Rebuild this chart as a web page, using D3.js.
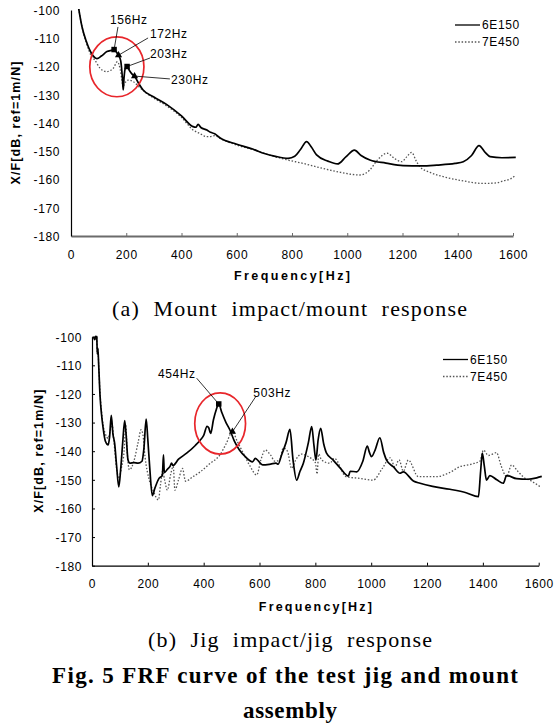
<!DOCTYPE html>
<html>
<head>
<meta charset="utf-8">
<script src="https://d3js.org/d3.v7.min.js"></script>
<style>
  body { margin: 0; background: #fff; }
  svg text { font-family: "Liberation Sans", Arial, sans-serif; fill: #000; }
  .tick text { font-size: 12px; letter-spacing: 0.6px; }
  .lab { font-size: 12px; letter-spacing: 0.6px; }
  .ttl { font-size: 12.5px; font-weight: bold; }
  svg text.cap { font-family: "Liberation Serif", "Times New Roman", serif; }
  .solid { fill: none; stroke: #000; stroke-width: 1.7px; stroke-linejoin: round; }
  .dot { fill: none; stroke: #555; stroke-width: 1.3px; stroke-dasharray: 1.5, 1.8; }
</style>
</head>
<body>
<script>
// shared axis ticks
var xTicks = [0, 200, 400, 600, 800, 1000, 1200, 1400, 1600];
var yTicks = [-180, -170, -160, -150, -140, -130, -120, -110, -100];

// (a) mount impact / mount response - 6E150
var aFreq6 = [22, 40, 55, 75, 94, 110, 130, 150, 156, 165, 172, 180, 186, 189, 192, 197, 203, 212, 222, 230, 245, 261, 300, 347, 400, 442, 452, 460, 470, 492, 505, 520, 540, 600, 660, 700, 740, 786, 810, 830, 853, 870, 889, 930, 965, 995, 1026, 1050, 1082, 1140, 1202, 1270, 1324, 1390, 1420, 1450, 1477, 1500, 1517, 1560, 1610];
var aDb6 = [-96, -106, -111, -115.5, -117.2, -116.3, -114.7, -114.2, -114, -115, -116, -118, -124, -128.3, -124, -120.5, -120, -121.5, -122.8, -123.4, -126, -128.3, -130.8, -133.5, -137.5, -141.3, -141.5, -140.5, -141.6, -142.5, -143.3, -143.8, -145.3, -147.5, -149.3, -150.8, -151.8, -152.5, -151.8, -149.5, -146.6, -148.5, -151.3, -153.5, -154.5, -152, -149.6, -151.5, -153.1, -154.2, -155.1, -155.2, -154.9, -154.3, -153.7, -151.5, -148, -150.5, -151.9, -152.3, -152.2];
// (a) 7E450
var aFreq7 = [22, 40, 55, 75, 86, 105, 129, 153, 168, 178, 186, 189, 192, 208, 226, 244, 274, 300, 347, 400, 442, 466, 490, 503, 520, 540, 600, 660, 720, 780, 840, 900, 962, 1046, 1082, 1110, 1145, 1170, 1197, 1215, 1233, 1250, 1263, 1300, 1348, 1420, 1493, 1540, 1565, 1590, 1607];
var aDb7 = [-96, -106, -111.5, -116.5, -117.7, -120.6, -121.8, -120.6, -118.3, -121, -126, -128, -126.5, -124.8, -125.4, -127, -129.5, -131.2, -134, -138, -142.5, -143.7, -144.8, -144.8, -144.5, -145.5, -147.8, -149.5, -151.4, -153, -154.3, -155.8, -157.2, -158.4, -156.6, -153, -150.7, -152.5, -153.7, -152, -150.4, -153.5, -155.5, -157.5, -159, -160.5, -161.4, -161.2, -160.5, -159.8, -158.7];

// (b) jig impact / jig response - 6E150
var bFreq6 = [5, 10, 14, 17, 19, 21, 24, 29, 34, 40, 48, 58, 63, 69, 75, 81, 88, 96, 103, 110, 117, 122, 129, 136, 150, 165, 179, 186, 194, 200, 207, 216, 225, 240, 252, 256, 259, 270, 280, 285, 290, 310, 339, 370, 388, 400, 412, 418, 425, 435, 445, 454, 465, 480, 494, 510, 528, 550, 575, 585, 595, 611, 640, 659, 667, 679, 695, 709, 720, 733, 745, 757, 775, 787, 795, 802, 810, 819, 830, 840, 864, 890, 918, 925, 948, 970, 986, 994, 1001, 1014, 1031, 1045, 1055, 1080, 1103, 1115, 1151, 1175, 1220, 1282, 1340, 1384, 1392, 1398, 1405, 1413, 1425, 1450, 1473, 1485, 1521, 1560, 1593, 1611];
var bDb6 = [-100, -101, -99.5, -100, -106, -104, -110, -121, -127, -132, -136.5, -137.8, -135, -127.5, -134, -137.2, -145, -152.5, -146, -137, -129.3, -134, -143.1, -144.2, -144, -144.2, -143.5, -139, -128.8, -136, -146, -155.5, -153, -149.5, -148.5, -141.3, -147.5, -146.3, -145.2, -144.2, -145, -142.8, -140.7, -138, -136.1, -134.5, -131.3, -131.8, -133.8, -129, -125.5, -123.5, -126.5, -130, -132.6, -136.5, -139.6, -142, -143.7, -142.5, -143.3, -144.8, -144.5, -144.2, -144.5, -141.3, -137, -132.4, -143, -150.1, -147, -144.2, -137, -131.4, -138, -143.1, -136, -132, -137.5, -140.7, -143.1, -146, -148.7, -147, -147.2, -143.5, -138.2, -140.5, -141.9, -139.6, -135.3, -140.5, -143.1, -145.5, -147.7, -147.2, -150.4, -151.2, -152.3, -153.3, -154.5, -155.9, -147, -140.7, -145, -150.1, -148.5, -150, -151.2, -148.5, -149.6, -149.8, -149.3, -148.8];
// (b) 7E450
var bFreq7 = [5, 10, 14, 17, 19, 21, 24, 29, 34, 40, 48, 58, 65, 72, 78, 88, 96, 105, 115, 121, 126, 134, 150, 165, 176, 182, 190, 205, 220, 238, 245, 253, 260, 270, 282, 291, 297, 310, 324, 335, 360, 388, 420, 458, 480, 503, 520, 542, 565, 590, 605, 620, 640, 655, 672, 685, 700, 715, 730, 750, 775, 800, 806, 812, 822, 852, 868, 910, 960, 1007, 1040, 1068, 1085, 1100, 1115, 1133, 1169, 1234, 1280, 1318, 1360, 1390, 1402, 1420, 1449, 1465, 1485, 1503, 1525, 1545, 1575, 1605];
var bDb7 = [-100, -101, -99.5, -100, -106, -104, -110, -120, -126, -131, -134, -135.5, -133, -130.5, -136, -146, -149.5, -146, -140, -131, -140, -146.5, -143.5, -137, -132.5, -134, -142, -150, -154, -157, -152, -146.9, -150, -153.6, -148, -145.3, -153.6, -150, -146, -150.5, -149, -147.2, -144.5, -141.3, -137.5, -133.2, -136.5, -140.7, -145, -148.3, -143, -139.6, -141.4, -143.5, -143.1, -138.9, -140, -146, -143, -141, -141.9, -144, -148, -141, -143, -144.2, -142.5, -148.9, -149.5, -150.1, -146, -142.3, -145.5, -143, -147, -143.1, -148.9, -148.9, -147.5, -145.4, -144.5, -143.4, -139.6, -141.5, -140.5, -145, -148.9, -144.8, -147, -149, -150.5, -152.4];

// peak annotations: [freq, dB, label, marker]
var aMarks = [[156, -114, "156Hz", "square"], [172, -116, "172Hz", "triangle"], [203, -120, "203Hz", "square"], [230, -123.4, "230Hz", "triangle"]];
var aLabels = [[141, -103.5, 170, -106], [286, -108.5, 279, -109.9], [286, -115.6, 286, -117], [362, -124.8, 358, -124.4]];
var bMarks = [[454, -123.5, "454Hz", "square"], [503, -133.2, "503Hz", "triangle"]];
var bLabels = [[236, -112.8, 375, -114.5], [578, -119.4, 586, -121]];
// highlight circles: [centre freq, centre dB, radius Hz, radius dB]
var aCircle = [166, -120.1, 98, 10.6];
var bCircle = [459, -130.3, 91, 10.7];

var svg = d3.select("body").append("svg")
  .attr("width", 554)
  .attr("height", 725);

function panel(o) {
  var x = d3.scaleLinear().domain([0, 1600]).range([o.left, o.right]);
  var y = d3.scaleLinear().domain([-180, -100]).range([o.bottom, o.top]);

  svg.append("clipPath").attr("id", o.id)
    .append("rect").attr("x", o.left).attr("y", o.top - 1)
    .attr("width", o.right - o.left + 6).attr("height", o.bottom - o.top + 1);

  // axes
  var gx = svg.append("g")
    .attr("transform", "translate(0," + o.bottom + ")")
    .call(d3.axisBottom(x).tickValues(xTicks).tickFormat(d3.format("d"))
      .tickSize(-3).tickSizeOuter(0).tickPadding(o.xPad));
  gx.select(".domain").attr("stroke", o.xAxisColor).attr("stroke-width", o.xAxisWidth);
  gx.selectAll(".tick line").attr("stroke", o.xAxisColor);

  var gy = svg.append("g")
    .attr("transform", "translate(" + o.left + ",0)")
    .call(d3.axisLeft(y).tickValues(yTicks).tickFormat(function (d) { return String(d); })
      .tickSize(o.yTick).tickSizeOuter(0).tickPadding(o.yPad));
  gy.select(".domain").attr("stroke", "#000").attr("stroke-width", 1.2);
  gy.selectAll(".tick text").attr("dy", "0.36em");
  svg.selectAll(".tick text").attr("font-family", null).attr("font-size", null);

  var line = d3.line().curve(d3.curveMonotoneX)
    .x(function (d) { return x(d[0]); }).y(function (d) { return y(d[1]); });
  var plot = svg.append("g").attr("clip-path", "url(#" + o.id + ")");
  plot.append("path").datum(d3.zip(o.f7, o.d7)).attr("class", "dot").attr("d", line);
  plot.append("path").datum(d3.zip(o.f6, o.d6)).attr("class", "solid").attr("d", line);

  // circle highlight
  svg.append("ellipse")
    .attr("cx", x(o.circle[0])).attr("cy", y(o.circle[1]))
    .attr("rx", x(o.circle[2]) - x(0)).attr("ry", y(-180) - y(-180 + o.circle[3]))
    .attr("fill", "none").attr("stroke", "#e8262b").attr("stroke-width", 1.7);

  // peak markers and leaders
  o.marks.forEach(function (m, i) {
    var l = o.labels[i];
    svg.append("line")
      .attr("x1", x(l[2])).attr("y1", y(l[3]))
      .attr("x2", x(m[0])).attr("y2", y(m[1]))
      .attr("stroke", "#000").attr("stroke-width", 0.8);
    svg.append("path")
      .attr("transform", "translate(" + x(m[0]) + "," + y(m[1]) + ")")
      .attr("d", d3.symbol(m[3] == "square" ? d3.symbolSquare : d3.symbolTriangle, m[3] == "square" ? 30 : 22)());
    svg.append("text").attr("class", "lab")
      .attr("x", x(l[0])).attr("y", y(l[1])).attr("dy", "0.36em")
      .text(m[2]);
  });

  // legend
  ["6E150", "7E450"].forEach(function (name, i) {
    var ly = o.legY + i * o.legGap;
    svg.append("line").attr("class", i ? "dot" : "solid")
      .attr("x1", o.legX).attr("x2", o.legX + 25).attr("y1", ly).attr("y2", ly)
      .style("stroke-width", 1.3);
    svg.append("text").attr("class", "lab")
      .attr("x", o.legX + 27).attr("y", ly).attr("dy", "0.36em").text(name);
  });

  // axis titles
  svg.append("text").attr("class", "ttl")
    .attr("x", (o.left + o.right) / 2).attr("y", o.xTitleY).attr("dy", "0.36em")
    .attr("text-anchor", "middle")
    .attr("textLength", o.xTitleLen).attr("lengthAdjust", "spacing")
    .text("Frequency[Hz]");
  svg.append("text").attr("class", "ttl")
    .attr("transform", "translate(" + o.yTitleX + "," + (o.top + o.bottom) / 2 + ") rotate(-90)")
    .attr("dy", "0.36em").attr("text-anchor", "middle")
    .attr("textLength", 123).attr("lengthAdjust", "spacing")
    .text("X/F[dB, ref=1m/N]");
}

panel({
  id: "clipA", left: 71, right: 513, top: 10, bottom: 236,
  xPad: 14, yPad: 11, yTick: 0, xAxisColor: "#6b6b6b", xAxisWidth: 2,
  f6: aFreq6, d6: aDb6, f7: aFreq7, d7: aDb7,
  marks: aMarks, labels: aLabels, circle: aCircle,
  legX: 455, legY: 25, legGap: 17,
  xTitleY: 275, xTitleLen: 116, yTitleX: 15
});

panel({
  id: "clipB", left: 92, right: 538.7, top: 336.7, bottom: 565.7,
  xPad: 13.5, yPad: 10, yTick: -3, xAxisColor: "#000", xAxisWidth: 1.2,
  f6: bFreq6, d6: bDb6, f7: bFreq7, d7: bDb7,
  marks: bMarks, labels: bLabels, circle: bCircle,
  legX: 443, legY: 359.5, legGap: 17,
  xTitleY: 606.7, xTitleLen: 113, yTitleX: 38
});

// captions
function caption(txt, x0, len, base, size, bold) {
  svg.append("text").attr("class", "cap")
    .attr("x", x0).attr("y", base)
    .attr("font-size", size).attr("font-weight", bold ? "bold" : "normal")
    .attr("textLength", len).attr("lengthAdjust", "spacing")
    .style("white-space", "pre")
    .text(txt);
}
caption("(a)  Mount  impact/mount  response", 112, 355, 316, 22, false);
caption("(b)  Jig  impact/jig  response", 148, 284, 647, 22, false);
caption("Fig. 5 FRF curve of the test jig and mount", 52, 466, 683, 23, true);
caption("assembly", 243, 94, 718, 23, true);
</script>
</body>
</html>
